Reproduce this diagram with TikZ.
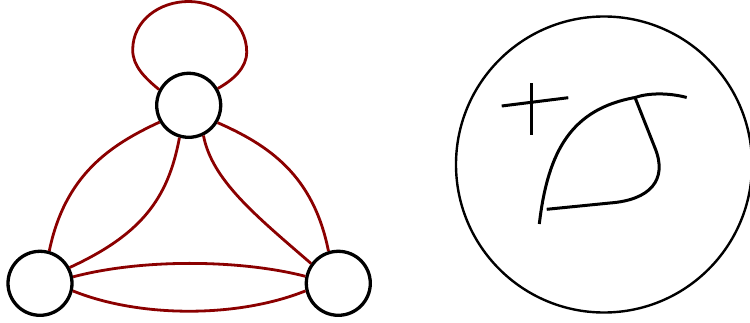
\documentclass[tikz,border=0pt]{standalone}
\definecolor{edgered}{RGB}{139,0,0}
\begin{document}
\begin{tikzpicture}[x=1pt,y=-1pt,
  vertex/.style={draw=black,circle,line width=3.3pt,minimum size=64pt,inner sep=0pt,fill=white},
  redge/.style={draw=edgered,line width=2.8pt},
  stroke/.style={draw=black,line width=3pt}]
\useasboundingbox (0,0) rectangle (750,323);
\node[vertex] (t) at (188.7,105.3) {};
\node[vertex] (l) at (40,283.3) {};
\node[vertex] (r) at (338.3,283.3) {};
\path[redge] (t.152) .. controls (145,78) and (132.7,66) .. (132.7,50)
   .. controls (132.7,20) and (160,1.5) .. (188.5,1.5)
   .. controls (218,1.5) and (246.7,22) .. (246.7,52)
   .. controls (246.7,68) and (233,80) .. (t.30);
\path[redge] (t.210) .. controls (110,145) and (65,175) .. (l.74);
\path[redge] (t.254) .. controls (168,200) and (140,235) .. (l.28);
\path[redge] (t.296) .. controls (212,180) and (255,215) .. (r.144);
\path[redge] (t.329) .. controls (268.4,145) and (313.4,175) .. (r.107);
\path[redge] (l.11) .. controls (140,259) and (238,259) .. (r.168);
\path[redge] (l.347) .. controls (140,318) and (238,318) .. (r.193);
% right part
\node[draw=black,circle,line width=2.4pt,minimum size=296pt,inner sep=0pt] (big) at (604,164.5) {};
\coordinate (h1) at (501.7,106);
\coordinate (h2) at (568.3,97.7);
\coordinate (v1) at (531.5,83.3);
\coordinate (v2) at (531.5,135);
\path[stroke] (h1) -- (h2);
\path[stroke] (v1) -- (v2);
\coordinate (s0) at (539.3,224);
\coordinate (s1) at (635,97.5);
\coordinate (s2) at (686.7,97.5);
\coordinate (s3) at (655,148);
\coordinate (s4) at (610,203);
\coordinate (s5) at (546.7,209.3);
\path[stroke] (s0) .. controls (548,150) and (572,109) .. (s1)
   .. controls (648,93) and (668,92.5) .. (s2);
\path[stroke,line join=round] (s1) -- (s3) .. controls (668,180) and (650,200) .. (s4) -- (s5);
\end{tikzpicture}
\end{document}
